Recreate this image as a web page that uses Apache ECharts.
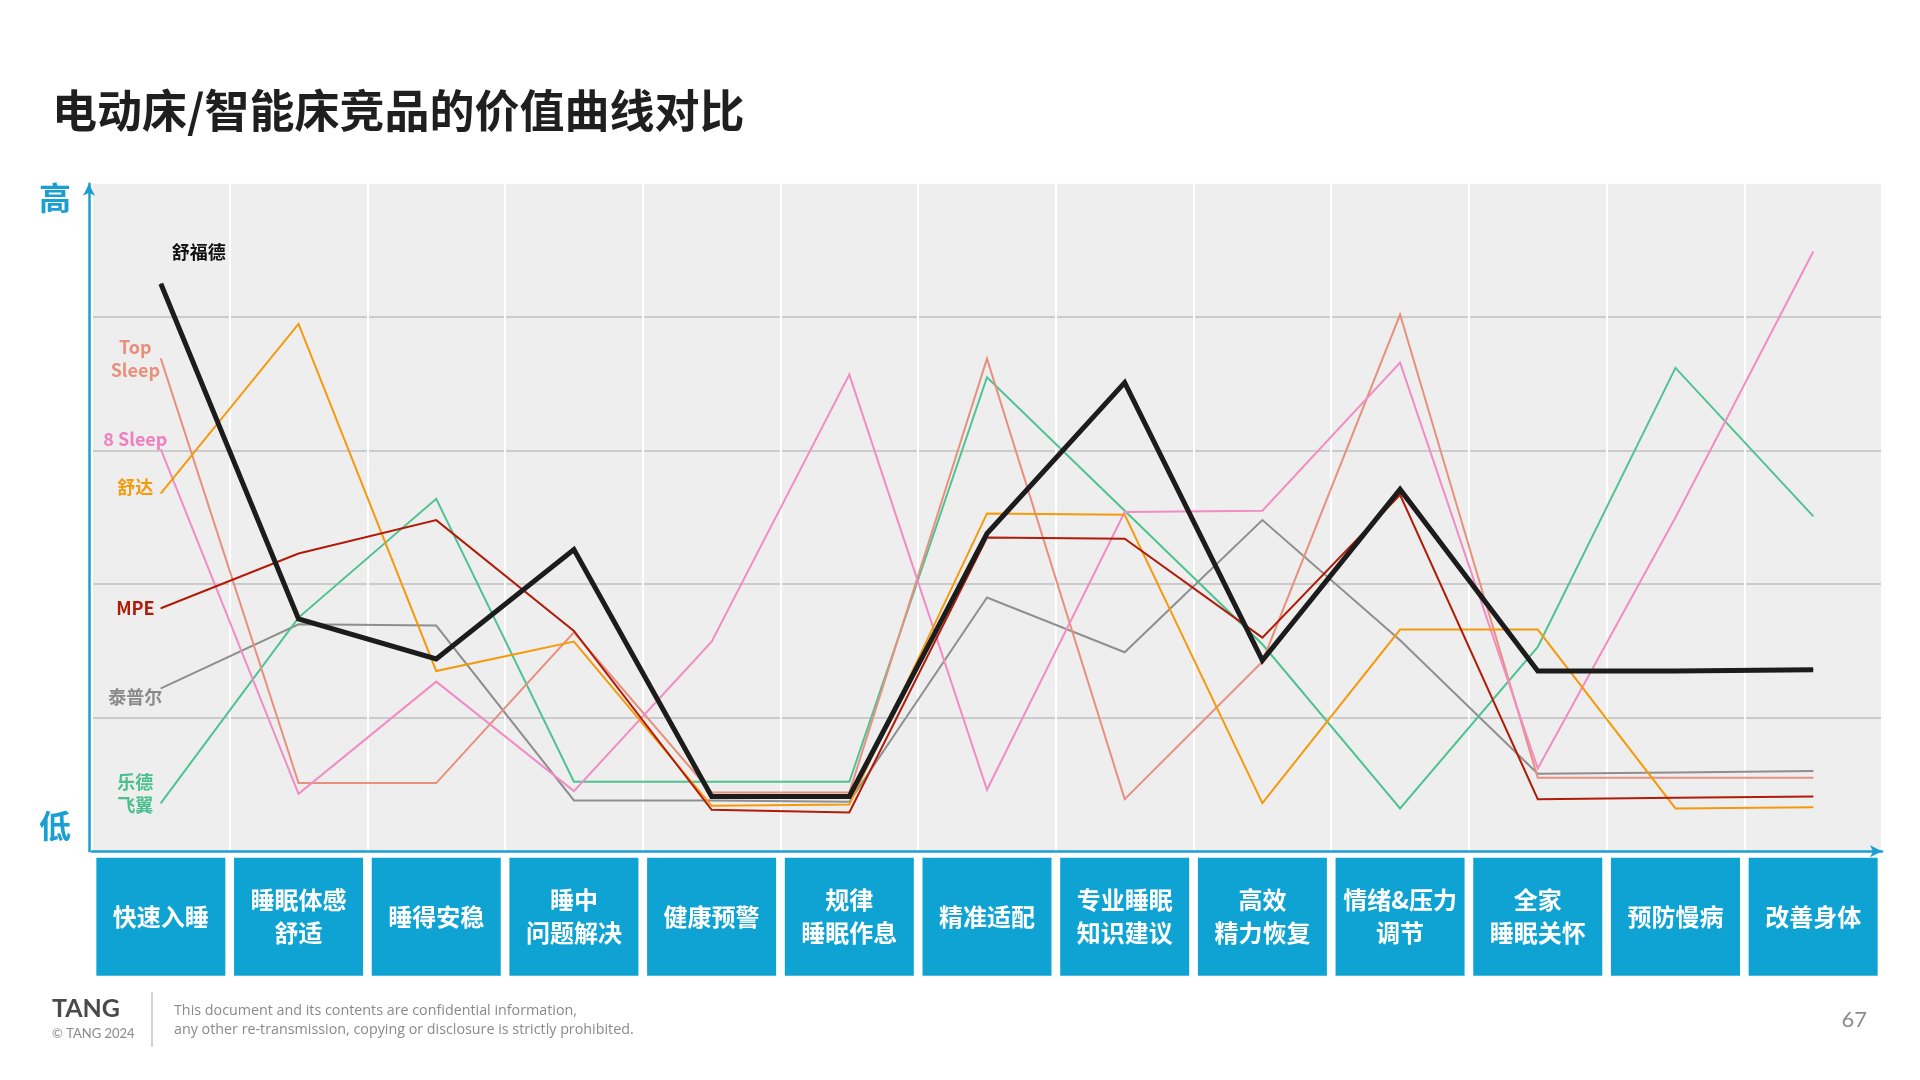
<!DOCTYPE html>
<html>
<head>
<meta charset="utf-8">
<script src="https://cdn.jsdelivr.net/npm/echarts@6/dist/echarts.min.js"></script>
<style>
html,body{margin:0;padding:0;background:#ffffff;}
#chart{width:1920px;height:1080px;}
</style>
</head>
<body>
<div id="chart"></div>
<script>
// ---------- DATA ----------
const categories = ['快速入睡', '睡眠体感\n舒适', '睡得安稳', '睡中\n问题解决', '健康预警', '规律\n睡眠作息', '精准适配', '专业睡眠\n知识建议', '高效\n精力恢复', '情绪&压力\n调节', '全家\n睡眠关怀', '预防慢病', '改善身体'];

const seriesNames = ['泰普尔', '乐德飞翼', 'Top Sleep', '8 Sleep', '舒达', 'MPE', '舒福德'];
const seriesLabels = ['泰普尔', '乐德\n飞翼', 'Top\nSleep', '8 Sleep', '舒达', 'MPE', '舒福德'];

const tempur    = [1.22, 1.70, 1.69, 0.38, 0.38, 0.37, 1.90, 1.49, 2.48, 1.58, 0.58, 0.59, 0.60];
const ledeFeiyi = [0.36, 1.75, 2.64, 0.52, 0.52, 0.52, 3.55, 2.55, 1.55, 0.32, 1.53, 3.62, 2.51];
const topSleep  = [3.69, 0.51, 0.51, 1.64, 0.44, 0.44, 3.69, 0.39, 1.42, 4.02, 0.55, 0.55, 0.55];
const eightSleep= [3.01, 0.43, 1.27, 0.45, 1.57, 3.57, 0.46, 2.54, 2.55, 3.66, 0.62, 2.50, 4.49];
const shuda     = [2.68, 3.95, 1.35, 1.57, 0.34, 0.35, 2.53, 2.52, 0.36, 1.66, 1.66, 0.32, 0.33];
const mpe       = [1.82, 2.23, 2.48, 1.65, 0.31, 0.29, 2.35, 2.34, 1.60, 2.67, 0.39, 0.40, 0.41];
const shufude   = [4.25, 1.74, 1.44, 2.26, 0.41, 0.41, 2.38, 3.51, 1.43, 2.71, 1.35, 1.35, 1.36];

const seriesValues = [tempur, ledeFeiyi, topSleep, eightSleep, shuda, mpe, shufude];

// ---------- STYLES ----------
const seriesColors = ['#8f8f8f', '#4fc292', '#e8907e', '#f28cc4', '#f59a0d', '#b01c08', '#1c1c1c'];
const labelColors  = ['#8a8a8a', '#49c08d', '#e8907e', '#f07fc0', '#f59a0d', '#b01c08', '#111111'];
const lineWidths   = [2, 2, 2, 2, 2, 2, 5];
const labelDy      = [9, -9, 0, -10, -6, 0, 0];

const BLUE = '#1a9fd3';
const BOX = '#0fa3d4';
const CJK = '"Noto Sans CJK SC", "Noto Sans", sans-serif';

const series = seriesValues.map((vals, si) => {
  const isMain = si === seriesValues.length - 1;
  const firstLabel = isMain ? {
    show: true, position: 'top', distance: 22, align: 'center', offset: [38, 0],
    formatter: seriesLabels[si], color: labelColors[si],
    fontSize: 18, fontWeight: 'bold', fontFamily: CJK
  } : {
    show: true, position: 'left', distance: 25, align: 'center', offset: [0, labelDy[si]],
    formatter: seriesLabels[si], color: labelColors[si],
    fontSize: 18, fontWeight: 'bold', lineHeight: 23, fontFamily: CJK
  };
  return {
    name: seriesNames[si],
    type: 'line',
    z: isMain ? 10 : 2 + si * 0.1,
    data: vals.map((v, i) => i === 0 ? { value: v, label: firstLabel } : v),
    showSymbol: true,
    showAllSymbol: true,
    symbol: 'circle',
    symbolSize: 1,
    itemStyle: { color: seriesColors[si] },
    lineStyle: { color: seriesColors[si], width: lineWidths[si], join: 'miter' },
    label: { show: false },
    emphasis: { disabled: true },
    silent: true
  };
});

const chart = echarts.init(document.getElementById('chart'), null, { renderer: 'canvas', width: 1920, height: 1080 });

chart.setOption({
  animation: false,
  backgroundColor: '#ffffff',
  grid: {
    left: 92, right: 38, top: 183.7, bottom: 228.8,
    show: true, backgroundColor: '#edeeed', borderWidth: 0
  },
  xAxis: {
    type: 'category',
    data: categories,
    boundaryGap: true,
    axisLine: {
      show: true,
      lineStyle: { color: BLUE, width: 2.5 },
      symbol: ['none', 'arrow'],
      symbolSize: [9, 12]
    },
    axisTick: { show: false },
    splitLine: { show: true, lineStyle: { color: '#ffffff', width: 2 } },
    axisLabel: {
      interval: 0,
      margin: 65.5,
      verticalAlign: 'middle',
      align: 'center',
      width: 129,
      height: 118,
      backgroundColor: BOX,
      color: '#ffffff',
      fontSize: 24,
      fontWeight: 'bold',
      lineHeight: 33,
      fontFamily: CJK
    }
  },
  yAxis: {
    type: 'value',
    min: 0, max: 5, interval: 1,
    offset: 3,
    axisLine: {
      show: true,
      lineStyle: { color: BLUE, width: 2.5 },
      symbol: ['none', 'arrow'],
      symbolSize: [9, 12]
    },
    axisTick: { show: false },
    axisLabel: { show: false },
    splitLine: { show: true, showMinLine: false, showMaxLine: false, lineStyle: { color: '#cbcbcb', width: 2 } }
  },
  series: series,
  graphic: [
    { type: 'text', x: 52, y: 111, style: { text: '电动床/智能床竞品的价值曲线对比', font: 'bold 45px ' + CJK, fill: '#1f1f1f', verticalAlign: 'middle', align: 'left' } },
    { type: 'text', x: 55, y: 198, style: { text: '高', font: 'bold 32px ' + CJK, fill: BLUE, verticalAlign: 'middle', align: 'center' } },
    { type: 'text', x: 55, y: 826, style: { text: '低', font: 'bold 32px ' + CJK, fill: BLUE, verticalAlign: 'middle', align: 'center' } },
    { type: 'text', x: 52, y: 1009, style: { text: 'TANG', font: 'bold 25px Lato, "Open Sans", sans-serif', fill: '#4a4a4a', verticalAlign: 'middle', align: 'left' } },
    { type: 'text', x: 52, y: 1034, style: { text: '© TANG 2024', font: '13px Lato, "Open Sans", sans-serif', fill: '#8a8a8a', verticalAlign: 'middle', align: 'left' } },
    { type: 'line', shape: { x1: 152, y1: 992, x2: 152, y2: 1047 }, style: { stroke: '#d3d3d3', lineWidth: 2 } },
    { type: 'text', x: 174, y: 1011, style: { text: 'This document and its contents are confidential information,', font: '14.3px "Open Sans", Lato, sans-serif', fill: '#8a8a8a', verticalAlign: 'middle', align: 'left' } },
    { type: 'text', x: 174, y: 1030, style: { text: 'any other re-transmission, copying or disclosure is strictly prohibited.', font: '14.3px "Open Sans", Lato, sans-serif', fill: '#8a8a8a', verticalAlign: 'middle', align: 'left' } },
    { type: 'text', x: 1867, y: 1020, style: { text: '67', font: '22px Lato, "Open Sans", sans-serif', fill: '#8a8a8a', verticalAlign: 'middle', align: 'right' } }
  ]
});
</script>
</body>
</html>
